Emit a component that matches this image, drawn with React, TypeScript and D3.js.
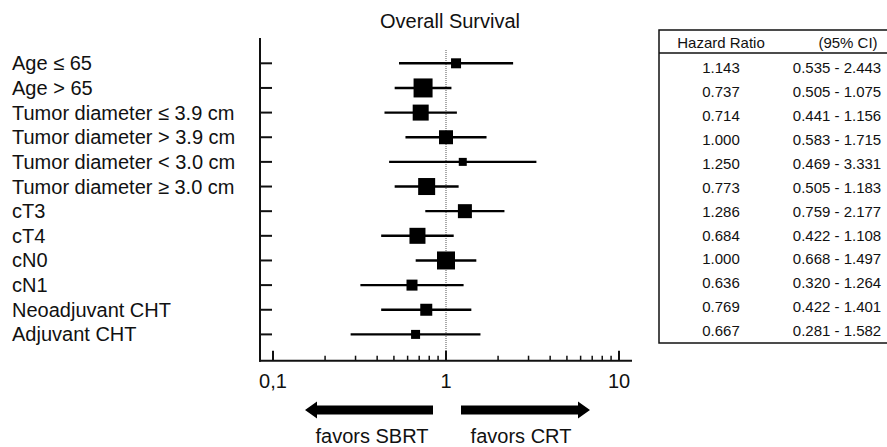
import { useEffect, useRef } from 'react';
import { select, scaleLog, scalePoint, range } from 'd3';

const labels = [
  'Age ≤ 65',
  'Age > 65',
  'Tumor diameter ≤ 3.9 cm',
  'Tumor diameter > 3.9 cm',
  'Tumor diameter < 3.0 cm',
  'Tumor diameter ≥ 3.0 cm',
  'cT3',
  'cT4',
  'cN0',
  'cN1',
  'Neoadjuvant CHT',
  'Adjuvant CHT',
];
const hazardRatio = [1.143, 0.737, 0.714, 1.0, 1.25, 0.773, 1.286, 0.684, 1.0, 0.636, 0.769, 0.667];
const ciLow = [0.535, 0.505, 0.441, 0.583, 0.469, 0.505, 0.759, 0.422, 0.668, 0.32, 0.422, 0.281];
const ciHigh = [2.443, 1.075, 1.156, 1.715, 3.331, 1.183, 2.177, 1.108, 1.497, 1.264, 1.401, 1.582];
// box size (weight) as it reads off the picture
const boxSize = [10, 19, 16, 14, 8, 17, 14, 16, 18, 11, 12, 9];
const majorTicks = [0.1, 1, 10];
const majorTickLabels = ['0,1', '1', '10'];
const minorTicks = [0.2, 0.3, 0.4, 0.5, 0.6, 0.7, 0.8, 0.9, 2, 3, 4, 5, 6, 7, 8, 9];

const W = 887, H = 447;
const FONT = '"Liberation Sans", Arial, sans-serif';

const App = () => {
  const ref = useRef<SVGSVGElement>(null);

  useEffect(() => {
    const svg = select(ref.current);
    svg.selectAll('*').remove();

    const x = scaleLog().domain([0.1, 10]).range([273, 619]);
    const y = scalePoint().domain(labels).range([63.3, 334.4]);
    const axisLeft = 260, axisY = 360.7, axisRight = 632;

    // title
    svg.append('text')
      .attr('x', 450).attr('y', 28)
      .attr('text-anchor', 'middle')
      .attr('font-size', 20)
      .text('Overall Survival');

    // row labels
    svg.append('g').selectAll('text')
      .data(labels)
      .join('text')
      .attr('x', 12)
      .attr('y', d => (y(d) as number) + 7)
      .attr('font-size', 20)
      .text(d => d);

    // reference line at 1
    svg.append('line')
      .attr('x1', x(1)).attr('x2', x(1))
      .attr('y1', 50).attr('y2', axisY)
      .attr('stroke', '#555').attr('stroke-width', 1)
      .attr('stroke-dasharray', '1,1');

    // axes
    svg.append('line')
      .attr('x1', axisLeft).attr('x2', axisLeft)
      .attr('y1', 38).attr('y2', axisY + 1)
      .attr('stroke', '#111').attr('stroke-width', 2);
    svg.append('line')
      .attr('x1', axisLeft - 1).attr('x2', axisRight)
      .attr('y1', axisY).attr('y2', axisY)
      .attr('stroke', '#111').attr('stroke-width', 2);

    svg.append('g').selectAll('line')
      .data(labels)
      .join('line')
      .attr('x1', axisLeft).attr('x2', axisLeft + 12)
      .attr('y1', d => y(d) as number).attr('y2', d => y(d) as number)
      .attr('stroke', '#111').attr('stroke-width', 2);

    svg.append('g').selectAll('line')
      .data(majorTicks)
      .join('line')
      .attr('x1', d => x(d)).attr('x2', d => x(d))
      .attr('y1', axisY).attr('y2', axisY - 10)
      .attr('stroke', '#111').attr('stroke-width', 2);
    svg.append('g').selectAll('line')
      .data(minorTicks)
      .join('line')
      .attr('x1', d => x(d)).attr('x2', d => x(d))
      .attr('y1', axisY).attr('y2', axisY - 5)
      .attr('stroke', '#111').attr('stroke-width', 1.5);
    svg.append('g').selectAll('text')
      .data(majorTicks)
      .join('text')
      .attr('x', d => x(d))
      .attr('y', axisY + 27)
      .attr('text-anchor', 'middle')
      .attr('font-size', 20)
      .text((d, i) => majorTickLabels[i]);

    // confidence intervals + boxes
    const idx = range(labels.length);
    svg.append('g').selectAll('line')
      .data(idx)
      .join('line')
      .attr('x1', i => x(ciLow[i])).attr('x2', i => x(ciHigh[i]))
      .attr('y1', i => y(labels[i]) as number).attr('y2', i => y(labels[i]) as number)
      .attr('stroke', '#000').attr('stroke-width', 2.4);
    svg.append('g').selectAll('rect')
      .data(idx)
      .join('rect')
      .attr('x', i => x(hazardRatio[i]) - boxSize[i] / 2)
      .attr('y', i => (y(labels[i]) as number) - boxSize[i] / 2)
      .attr('width', i => boxSize[i])
      .attr('height', i => boxSize[i])
      .attr('fill', '#000');

    // direction arrows
    const ay = 410;
    const arrow = (tail: number, tip: number) => {
      const dir = tip > tail ? 1 : -1;
      const neck = tip - dir * 12;
      return `M${tail},${ay - 4.5} L${neck},${ay - 4.5} L${neck},${ay - 8.5} L${tip},${ay} L${neck},${ay + 8.5} L${neck},${ay + 4.5} L${tail},${ay + 4.5} Z`;
    };
    svg.append('path').attr('d', arrow(433, 305)).attr('fill', '#000');
    svg.append('path').attr('d', arrow(461, 590)).attr('fill', '#000');
    svg.append('text').attr('x', 372).attr('y', 443).attr('text-anchor', 'middle')
      .attr('font-size', 20).text('favors SBRT');
    svg.append('text').attr('x', 521).attr('y', 443).attr('text-anchor', 'middle')
      .attr('font-size', 20).text('favors CRT');

    // table
    const tRows = scalePoint().domain(labels).range([67.7, 330.6]);
    const table = svg.append('g');
    table.append('rect')
      .attr('x', 659).attr('y', 30).attr('width', 240).attr('height', 313)
      .attr('fill', 'none').attr('stroke', '#111').attr('stroke-width', 1.5);
    table.append('line')
      .attr('x1', 659).attr('x2', W).attr('y1', 53).attr('y2', 53)
      .attr('stroke', '#111').attr('stroke-width', 1.5);
    table.append('text').attr('x', 721).attr('y', 48).attr('text-anchor', 'middle')
      .attr('font-size', 15).text('Hazard Ratio');
    table.append('text').attr('x', 848).attr('y', 48).attr('text-anchor', 'middle')
      .attr('font-size', 15).text('(95% CI)');
    table.append('g').selectAll('text')
      .data(idx)
      .join('text')
      .attr('x', 721)
      .attr('y', i => (tRows(labels[i]) as number) + 5.5)
      .attr('text-anchor', 'middle')
      .attr('font-size', 15)
      .text(i => hazardRatio[i].toFixed(3));
    table.append('g').selectAll('text')
      .data(idx)
      .join('text')
      .attr('x', 837)
      .attr('y', i => (tRows(labels[i]) as number) + 5.5)
      .attr('text-anchor', 'middle')
      .attr('font-size', 15)
      .text(i => `${ciLow[i].toFixed(3)} - ${ciHigh[i].toFixed(3)}`);
  }, []);

  return (
    <svg
      ref={ref}
      width={W}
      height={H}
      style={{ position: 'absolute', left: 0, top: 0, background: '#fff', fontFamily: FONT }}
      fill="#111"
    />
  );
};

export default App;
